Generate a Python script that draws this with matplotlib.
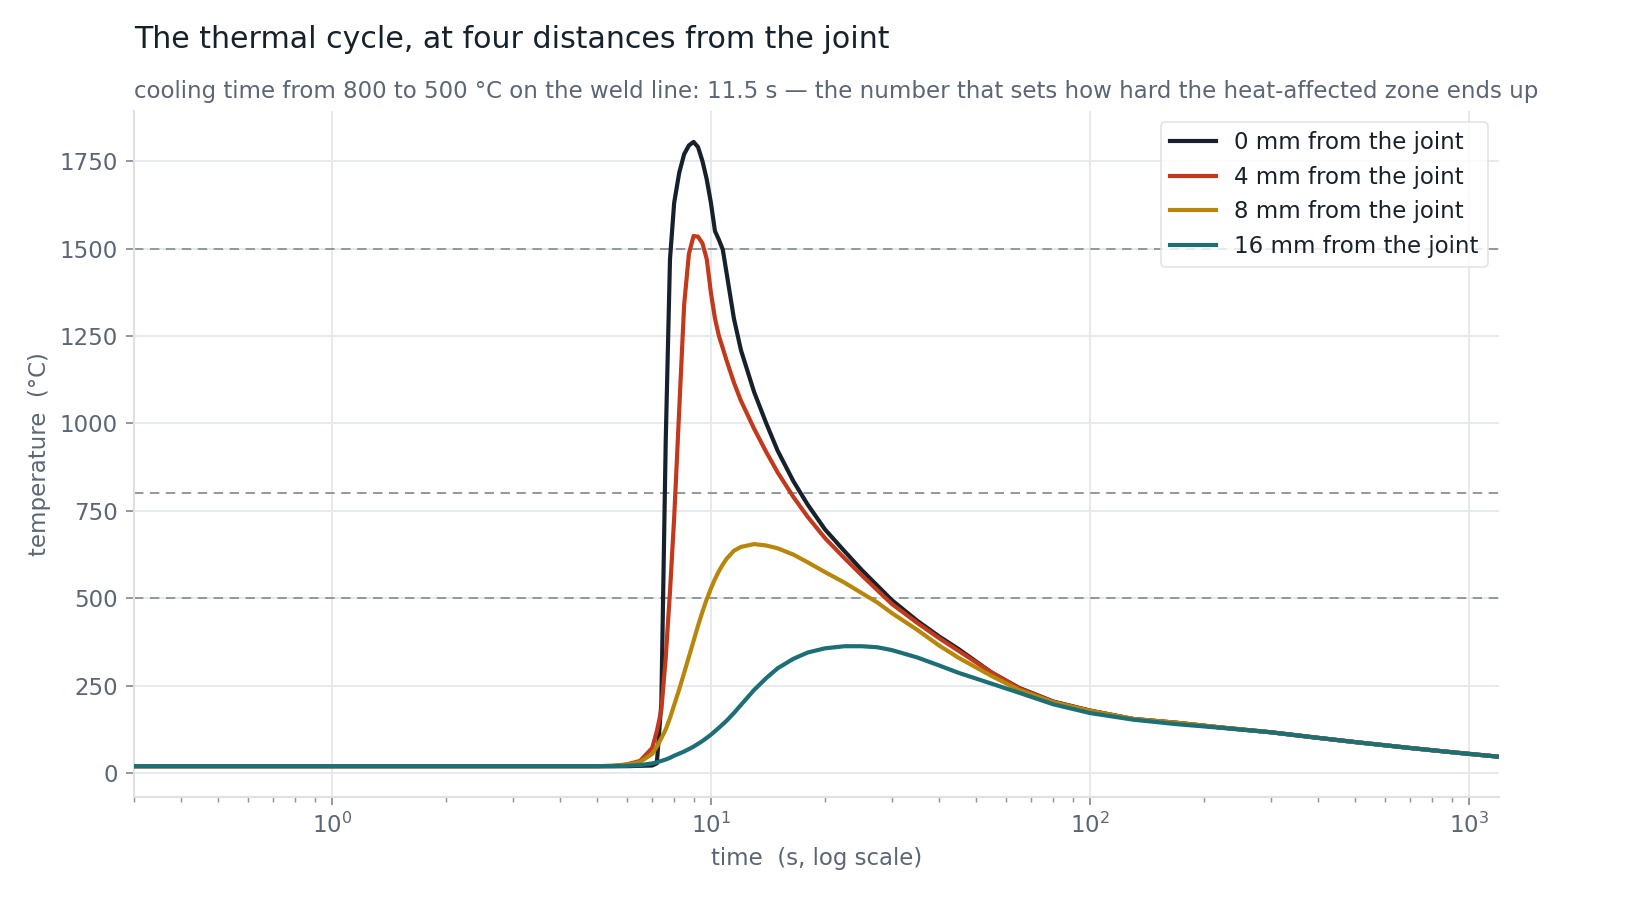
import matplotlib
matplotlib.use("Agg")
import matplotlib.pyplot as plt

# ---------------------------------------------------------------------------
# Data
# ---------------------------------------------------------------------------
time_s = [0.3, 1, 3, 5, 5.5, 6, 6.5, 7, 7.2, 7.4, 7.6, 7.8, 8.0, 8.25, 8.5,
          8.75, 9.0, 9.25, 9.5, 9.75, 10, 10.25, 10.5, 10.75, 11, 11.5, 12,
          13, 14, 15, 16.5, 18, 20, 22.5, 25, 27.5, 30, 35, 40, 45, 55, 65,
          80, 100, 130, 170, 220, 300, 400, 500, 700, 900, 1200]

temp_0mm = [20, 20, 20, 20, 20, 20, 21, 22, 28, 200, 950, 1470, 1631, 1717, 1770,
            1795, 1805, 1790, 1750, 1698, 1631, 1550, 1525, 1497, 1430, 1300, 1210,
            1090, 1000, 922, 835, 768, 697, 635, 581, 536, 495, 436, 391, 355, 288, 244,
            205, 179, 155, 144, 131, 117, 101, 89, 72, 60, 47]

temp_4mm = [20, 20, 20, 20, 21, 25, 35, 72, 120, 180, 330, 520, 730, 1040, 1340,
            1485, 1536, 1534, 1515, 1470, 1374, 1300, 1250, 1215, 1180, 1117, 1065,
            985, 918, 860, 790, 733, 672, 615, 566, 523, 484, 430, 386, 350, 288, 243,
            204, 179, 155, 144, 131, 117, 101, 89, 72, 60, 47]

temp_8mm = [20, 20, 20, 20, 21, 24, 32, 55, 76, 100, 125, 158, 195, 240, 287,
            333, 378, 422, 462, 497, 528, 555, 578, 597, 613, 636, 647,
            655, 651, 643, 625, 603, 575, 545, 515, 488, 458, 410, 365, 330, 278, 238,
            203, 178, 155, 144, 131, 117, 101, 89, 72, 60, 47]

temp_16mm = [20, 20, 20, 20, 20, 21, 23, 28, 31, 35, 39, 44, 50, 56, 62,
             69, 76, 84, 92, 101, 110, 120, 130, 140, 150, 172, 195,
             238, 272, 300, 327, 345, 357, 363, 363, 360, 352, 331, 308, 287, 256, 230,
             197, 172, 153, 140, 130, 117, 101, 89, 72, 60, 47]

series_labels = ["0 mm from the joint", "4 mm from the joint",
                 "8 mm from the joint", "16 mm from the joint"]
series_colors = ["#17212b", "#c2391b", "#b8860b", "#1d6f76"]

ref_temps = [1500, 800, 500]

TEXT_DARK = "#17212b"
TEXT_GREY = "#5b6675"
GRID = "#e5e8ec"

# ---------------------------------------------------------------------------
# Plot
# ---------------------------------------------------------------------------
fig = plt.figure(figsize=(11, 6), dpi=150)
ax = fig.add_axes([0.081, 0.114, 0.8275, 0.763])

for temps, lab, col in zip([temp_0mm, temp_4mm, temp_8mm, temp_16mm],
                           series_labels, series_colors):
    ax.plot(time_s, temps, color=col, linewidth=2.0, label=lab, zorder=3)

for tr in ref_temps:
    ax.axhline(tr, color="#8d949c", linestyle=(0, (5, 3.5)), linewidth=0.9, zorder=2)

ax.set_xscale("log")
ax.set_xlim(0.3, 1200)
ax.set_yticks([0, 250, 500, 750, 1000, 1250, 1500, 1750])

ax.grid(True, which="major", color=GRID, linewidth=0.9, zorder=0)
ax.set_axisbelow(True)

for s in ("top", "right"):
    ax.spines[s].set_visible(False)
for s in ("left", "bottom"):
    ax.spines[s].set_color("#dde1e6")
    ax.spines[s].set_linewidth(1.0)

ax.tick_params(axis="both", which="major", labelsize=11, colors=TEXT_GREY,
               length=4, width=0.9)
ax.tick_params(axis="x", which="minor", colors=TEXT_GREY, length=2.5, width=0.7)
ax.tick_params(axis="both", which="both", color="#8d949c")

ax.set_xlabel("time  (s, log scale)", fontsize=11, color=TEXT_GREY)
ax.set_ylabel("temperature  (°C)", fontsize=11, color=TEXT_GREY)

leg = ax.legend(loc="upper right", fontsize=11, frameon=True, fancybox=True,
                handlelength=2.0)
leg.get_frame().set_edgecolor("#dde1e6")
leg.get_frame().set_linewidth(0.9)
for t in leg.get_texts():
    t.set_color(TEXT_DARK)

fig.text(0.081, 0.956, "The thermal cycle, at four distances from the joint",
         fontsize=14.4, color=TEXT_DARK, ha="left", va="center")
fig.text(0.081, 0.898,
         "cooling time from 800 to 500 °C on the weld line: 11.5 s — the number "
         "that sets how hard the heat-affected zone ends up",
         fontsize=11, color=TEXT_GREY, ha="left", va="center")

fig.savefig("out.png", dpi=150)
